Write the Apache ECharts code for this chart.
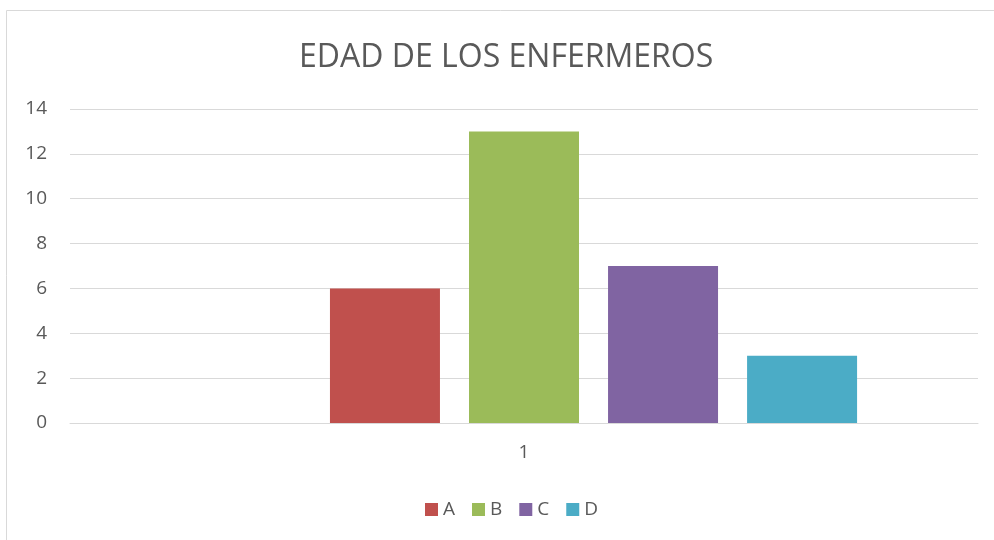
<!DOCTYPE html>
<html><head><meta charset="utf-8">
<script src="https://cdn.jsdelivr.net/npm/echarts@6/dist/echarts.min.js"></script>
<style>html,body{margin:0;padding:0;background:#fff}#c{width:994px;height:540px}</style>
</head><body><div id="c"></div>
<script>
const categories = ['1'];
const seriesNames = ['A', 'B', 'C', 'D'];
const valuesA = [6];
const valuesB = [13];
const valuesC = [7];
const valuesD = [3];
const emptySeries = [null];
const colors = ['#C0504D', '#9BBB59', '#8064A2', '#4BACC6'];
const yTicks = { min: 0, max: 14, interval: 2 };

const chart = echarts.init(document.getElementById('c'), null, { renderer: 'canvas' });
const font = 'Open Sans, Liberation Sans, sans-serif';
const dataSets = [valuesA, valuesB, valuesC, valuesD];
const series = [{ name: '', type: 'bar', data: emptySeries, barWidth: 110, barGap: '26.4%' }];
seriesNames.forEach((n, i) => series.push({
  name: n, type: 'bar', data: dataSets[i], barWidth: 110, barGap: '26.4%',
  itemStyle: { color: colors[i] }
}));
chart.setOption({
  animation: false,
  color: ['#ffffff'].concat(colors),
  graphic: [{ type: 'rect', shape: { x: 6.5, y: 10.5, width: 1000, height: 600 },
    style: { fill: 'none', stroke: '#d9d9d9', lineWidth: 1 }, silent: true }],
  title: { text: 'EDAD DE LOS ENFERMEROS', left: 294, top: 37,
    textStyle: { fontFamily: font, fontSize: 32, fontWeight: 'normal', color: '#595959' } },
  legend: { data: seriesNames, bottom: 16, left: 420, itemWidth: 13, itemHeight: 13,
    itemGap: 17, icon: 'rect',
    textStyle: { fontFamily: font, fontSize: 19, color: '#595959' } },
  grid: { left: 70, right: 16, top: 109, bottom: 117, containLabel: false },
  xAxis: { type: 'category', data: categories,
    axisLine: { lineStyle: { color: '#d9d9d9', width: 1 } }, axisTick: { show: false },
    axisLabel: { fontFamily: font, fontSize: 19, color: '#595959', margin: 20 } },
  yAxis: { type: 'value', min: yTicks.min, max: yTicks.max, interval: yTicks.interval,
    axisLine: { show: false }, axisTick: { show: false },
    splitLine: { lineStyle: { color: '#d9d9d9', width: 1 } },
    axisLabel: { fontFamily: font, fontSize: 19, color: '#595959', margin: 23 } },
  series: series
});
</script></body></html>
